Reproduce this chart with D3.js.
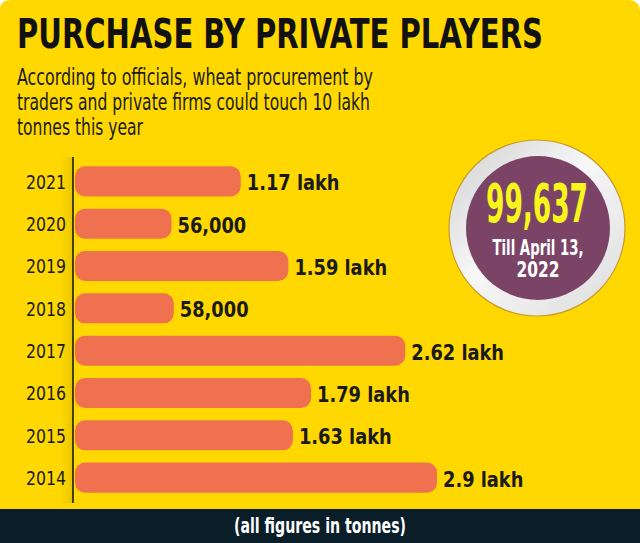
<!DOCTYPE html>
<html>
<head>
<meta charset="utf-8">
<script src="https://cdn.jsdelivr.net/npm/d3@7"></script>
<style>
  html, body { margin: 0; padding: 0; background: #fff; }
  svg { display: block; }
  text { font-family: "DejaVu Sans Condensed", "DejaVu Sans", sans-serif; }
</style>
</head>
<body>
<div id="chart"></div>
<script>
// data
const years = ["2021", "2020", "2019", "2018", "2017", "2016", "2015", "2014"];
const tonnes = [117000, 56000, 159000, 58000, 262000, 179000, 163000, 290000];
const valueLabels = ["1.17 lakh", "56,000", "1.59 lakh", "58,000", "2.62 lakh", "1.79 lakh", "1.63 lakh", "2.9 lakh"];

const title = "PURCHASE BY PRIVATE PLAYERS";
const subtitle = [
    "According to officials, wheat procurement by",
    "traders and private firms could touch 10 lakh",
    "tonnes this year"
];
const highlightValue = "99,637";
const highlightNote = ["Till April 13,", "2022"];
const footNote = "(all figures in tonnes)";

const W = 640, H = 543;
const yellow = "#fed800", barColor = "#f0714f", dark = "#0a1e29";

// squeeze a text to a share of its natural width (the original face is condensed)
const condense = (sel, k) => sel.each(function () {
    const w = this.getComputedTextLength();
    d3.select(this).attr("textLength", w * k).attr("lengthAdjust", "spacingAndGlyphs");
});

const svg = d3.select("#chart")
    .append("svg")
    .attr("width", W)
    .attr("height", H);

const defs = svg.append("defs");

// yellow panel with rounded top corners
svg.append("path")
    .attr("d", `M0,10 Q0,0 10,0 L${W - 12},0 Q${W},0 ${W},12 L${W},${H} L0,${H} Z`)
    .attr("fill", yellow);

// bottom strip
svg.append("rect")
    .attr("x", 0).attr("y", 509)
    .attr("width", W).attr("height", H - 509)
    .attr("fill", dark);

svg.append("text")
    .attr("x", W / 2).attr("y", 533)
    .attr("text-anchor", "middle")
    .attr("fill", "#fff")
    .attr("textLength", 172)
    .attr("lengthAdjust", "spacingAndGlyphs")
    .style("font-size", "22px")
    .style("font-weight", "bold")
    .text(footNote);

// title + subtitle
svg.append("text")
    .attr("x", 17).attr("y", 48)
    .attr("fill", "#111")
    .attr("textLength", 526)
    .attr("lengthAdjust", "spacingAndGlyphs")
    .style("font-size", "40px")
    .style("font-weight", "bold")
    .text(title);

const subWidths = [356, 353, 126];
svg.append("g")
    .selectAll("text")
    .data(subtitle)
    .join("text")
    .attr("x", 17)
    .attr("y", (d, i) => 85 + i * 25)
    .attr("fill", "#1a1a1a")
    .attr("textLength", (d, i) => subWidths[i])
    .attr("lengthAdjust", "spacingAndGlyphs")
    .style("font-size", "23px")
    .text(d => d);

// scales
const y = d3.scaleBand()
    .domain(years)
    .range([160, 499])
    .paddingInner(0.29)
    .paddingOuter(0.15);

const x = d3.scaleLinear()
    .domain([0, 290000])
    .range([33, 362]);

const x0 = 75;

// shadow left of axis
const grad = defs.append("linearGradient").attr("id", "shade");
grad.append("stop").attr("offset", "0%").attr("stop-color", yellow).attr("stop-opacity", 0);
grad.append("stop").attr("offset", "100%").attr("stop-color", "#b89a00").attr("stop-opacity", 0.35);
svg.append("rect")
    .attr("x", 56).attr("y", 157)
    .attr("width", 17).attr("height", 346)
    .attr("fill", "url(#shade)");

const rows = svg.append("g")
    .selectAll("g")
    .data(years)
    .join("g");

rows.append("rect")
    .attr("x", x0)
    .attr("y", d => y(d))
    .attr("width", (d, i) => x(tonnes[i]))
    .attr("height", y.bandwidth())
    .attr("rx", 10)
    .attr("fill", barColor);

rows.append("text")
    .attr("x", (d, i) => x0 + x(tonnes[i]) + 6)
    .attr("y", d => y(d) + y.bandwidth() / 2 + 9)
    .attr("fill", "#1a1a1a")
    .style("font-size", "22px")
    .style("font-weight", "bold")
    .text((d, i) => valueLabels[i])
    .call(condense, 0.9);

// axis with year labels
const axis = svg.append("g")
    .attr("transform", "translate(73,0)")
    .call(d3.axisLeft(y).tickSize(0).tickPadding(7));
axis.select(".domain")
    .attr("d", "M0,157V503")
    .attr("stroke", "#111")
    .attr("stroke-width", 1.5);
axis.selectAll(".tick text")
    .attr("fill", "#1a1a1a")
    .attr("dy", "0.36em")
    .attr("textLength", 40)
    .attr("lengthAdjust", "spacingAndGlyphs")
    .style("font-size", "20px")
    .style("font-family", "'DejaVu Sans Condensed', 'DejaVu Sans', sans-serif");

// highlight badge
const cx = 537, cy = 228;
const ring = defs.append("linearGradient")
    .attr("id", "ring")
    .attr("x1", "0").attr("y1", "0").attr("x2", "1").attr("y2", "1");
ring.append("stop").attr("offset", "0%").attr("stop-color", "#cfcfd1");
ring.append("stop").attr("offset", "45%").attr("stop-color", "#f7f7f7");
ring.append("stop").attr("offset", "100%").attr("stop-color", "#dcdcde");

svg.append("circle")
    .attr("cx", cx).attr("cy", cy).attr("r", 88)
    .attr("fill", "url(#ring)")
    .attr("stroke", "#c79a2c")
    .attr("stroke-width", 1.2);

svg.append("circle")
    .attr("cx", cx + 1).attr("cy", cy).attr("r", 72)
    .attr("fill", "#7b4466");

svg.append("text")
    .attr("x", cx).attr("y", 222)
    .attr("text-anchor", "middle")
    .attr("fill", "#f8f51c")
    .attr("textLength", 102)
    .attr("lengthAdjust", "spacingAndGlyphs")
    .style("font-size", "54px")
    .style("font-weight", "bold")
    .text(highlightValue);

const noteWidths = [91, 43];
svg.append("g")
    .selectAll("text")
    .data(highlightNote)
    .join("text")
    .attr("x", cx + 1)
    .attr("y", (d, i) => 255 + i * 22)
    .attr("text-anchor", "middle")
    .attr("fill", "#fff")
    .attr("textLength", (d, i) => noteWidths[i])
    .attr("lengthAdjust", "spacingAndGlyphs")
    .style("font-size", "21px")
    .style("font-weight", "bold")
    .text(d => d);
</script>
</body>
</html>
